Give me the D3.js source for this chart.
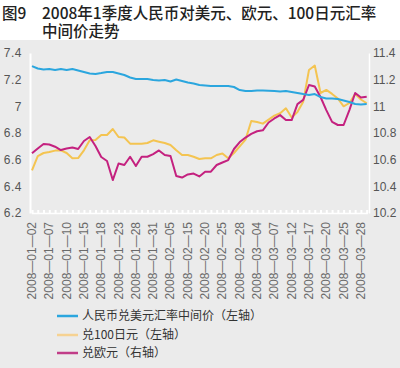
<!DOCTYPE html>
<html>
<head>
<meta charset="utf-8">
<script src="https://cdn.jsdelivr.net/npm/d3@7"></script>
<style>
  body { margin: 0; background: #fff; }
  svg { display: block; font-family: "Liberation Sans", "Noto Sans CJK SC", sans-serif; }
</style>
</head>
<body>
<svg id="chart" width="400" height="368"></svg>
<script>
// trading days, 2008 Q1
const dates = [
  '01-02','01-03','01-04','01-07','01-08','01-09','01-10','01-11','01-14','01-15',
  '01-16','01-17','01-18','01-21','01-22','01-23','01-24','01-25','01-28','01-29',
  '01-30','01-31','02-01','02-04','02-05','02-13','02-14','02-15','02-18','02-19',
  '02-20','02-21','02-22','02-25','02-26','02-27','02-28','02-29','03-03','03-04',
  '03-05','03-06','03-07','03-10','03-11','03-12','03-13','03-14','03-17','03-18',
  '03-19','03-20','03-21','03-24','03-25','03-26','03-27','03-28','03-31'
].map(d => '2008-' + d)

const tickDates = [
  '2008-01-02','2008-01-07','2008-01-10','2008-01-15','2008-01-18','2008-01-23','2008-01-28',
  '2008-01-31','2008-02-05','2008-02-15','2008-02-20','2008-02-25','2008-02-28','2008-03-04',
  '2008-03-07','2008-03-12','2008-03-17','2008-03-20','2008-03-25','2008-03-28'
]

const leftTicks = [6.2, 6.4, 6.6, 6.8, 7, 7.2, 7.4]
const rightTicks = [10.2, 10.4, 10.6, 10.8, 11, 11.2, 11.4]

// USD (left axis)
const usd = [
  7.302,7.284,7.276,7.280,7.273,7.280,7.273,7.280,7.269,7.258,
  7.246,7.243,7.250,7.258,7.258,7.246,7.235,7.216,7.205,7.205,
  7.205,7.198,7.194,7.198,7.186,7.201,7.190,7.179,7.171,7.160,
  7.156,7.152,7.152,7.152,7.152,7.145,7.122,7.115,7.115,7.119,
  7.119,7.117,7.115,7.111,7.115,7.108,7.100,7.092,7.085,7.092,
  7.070,7.059,7.059,7.055,7.044,7.032,7.017,7.014,7.018
]
// 100 JPY (left axis)
const jpy = [
  6.520,6.627,6.650,6.657,6.668,6.670,6.650,6.610,6.612,6.670,
  6.745,6.747,6.785,6.785,6.830,6.770,6.766,6.720,6.720,6.720,
  6.725,6.745,6.735,6.725,6.710,6.670,6.635,6.635,6.622,6.605,
  6.610,6.610,6.635,6.646,6.610,6.650,6.700,6.750,6.890,6.883,
  6.870,6.900,6.930,6.948,6.985,6.916,6.957,7.035,7.273,7.306,
  7.100,7.123,7.093,7.059,7.000,7.025,7.093,7.051,7.023
]
// EUR (right axis)
const eur = [
  10.648,10.684,10.718,10.714,10.697,10.672,10.684,10.691,10.680,10.740,
  10.770,10.702,10.620,10.590,10.447,10.571,10.560,10.622,10.552,10.622,
  10.622,10.642,10.669,10.635,10.627,10.477,10.466,10.489,10.496,10.474,
  10.510,10.510,10.560,10.579,10.597,10.680,10.732,10.766,10.793,10.813,
  10.820,10.879,10.909,10.934,10.897,10.897,11.017,11.048,11.160,11.149,
  11.070,10.972,10.883,10.860,10.860,10.972,11.100,11.066,11.072
]

const seriesNames = ['人民币兑美元汇率中间价（左轴）', '兑100日元（左轴）', '兑欧元（右轴）']
const colors = ['#2ba6de', '#f4c451', '#c4217f']
const legendColors = ['#2ba6de', '#f6d292', '#c13d88']

const plot = { left: 30, right: 369, top: 53, bottom: 213 }
const legend = { x: 57, len: 21, rows: [316, 335, 353] }

const svg = d3.select('#chart')

svg.append('rect')
  .attr('x', 0).attr('y', 40).attr('width', 400).attr('height', 328)
  .attr('fill', '#ebebeb')

// title
const title = svg.append('g')
  .attr('font-family', '"Noto Sans CJK SC", sans-serif')
  .attr('font-size', 15.5)
  .attr('font-weight', 500)
  .attr('fill', '#222')
title.append('text').attr('x', 2).attr('y', 19).text('图9')
title.append('text').attr('x', 42).attr('y', 19).text('2008年1季度人民币对美元、欧元、100日元汇率')
title.append('text').attr('x', 42).attr('y', 37).text('中间价走势')

// scales
const x = d3.scalePoint()
  .domain(dates)
  .range([32, 366.7])

const yL = d3.scaleLinear().domain([6.2, 7.4]).range([plot.bottom, plot.top])
const yR = d3.scaleLinear().domain([10.2, 11.4]).range([plot.bottom, plot.top])

const fmt = d => String(+d.toFixed(1))

svg.append('g')
  .attr('transform', 'translate(' + plot.left + ',0)')
  .call(d3.axisLeft(yL).tickValues(leftTicks).tickFormat(fmt).tickSize(0).tickPadding(8))
  .call(g => g.select('.domain').attr('stroke', '#fff').attr('stroke-width', 2))
  .call(g => g.selectAll('text')
    .attr('font-size', 12).attr('fill', '#555').attr('letter-spacing', 0.5)
    .attr('font-family', '"Liberation Sans", sans-serif'))

svg.append('g')
  .attr('transform', 'translate(' + plot.right + ',0)')
  .call(d3.axisRight(yR).tickValues(rightTicks).tickFormat(fmt).tickSize(0).tickPadding(4))
  .call(g => g.select('.domain').attr('stroke', '#fff').attr('stroke-width', 1.5))
  .call(g => g.selectAll('text')
    .attr('font-size', 12).attr('fill', '#555')
    .attr('font-family', '"Liberation Sans", sans-serif'))

// bottom axis: small white ticks on every day, labels every third day
svg.append('g')
  .attr('transform', 'translate(0,' + plot.bottom + ')')
  .call(d3.axisBottom(x).tickValues(dates).tickSize(-3).tickFormat(''))
  .call(g => g.select('.domain').attr('stroke', '#fff').attr('stroke-width', 1.5))
  .call(g => g.selectAll('.tick line').attr('stroke', '#fff').attr('stroke-width', 2))

svg.append('g')
  .selectAll('text')
  .data(tickDates)
  .join('text')
    .attr('transform', d => 'translate(' + (x(d) + 4) + ',' + (plot.bottom + 9) + ') rotate(-90)')
    .attr('text-anchor', 'end')
    .attr('font-size', 12)
    .attr('font-family', '"Liberation Sans", sans-serif')
    .attr('fill', '#6a6a6a')
    .text(d => d.replace(/-/g, '—'))

// lines
const lineL = d3.line().x((d, i) => x(dates[i])).y(d => yL(d))
const lineR = d3.line().x((d, i) => x(dates[i])).y(d => yR(d))

const lines = [
  { values: usd, line: lineL, color: colors[0] },
  { values: jpy, line: lineL, color: colors[1] },
  { values: eur, line: lineR, color: colors[2] },
]

svg.append('g')
  .selectAll('path')
  .data([lines[1], lines[2], lines[0]])
  .join('path')
    .attr('d', d => d.line(d.values))
    .attr('fill', 'none')
    .attr('stroke', d => d.color)
    .attr('stroke-width', 2)
    .attr('stroke-linejoin', 'round')

// legend
const leg = svg.append('g')
  .selectAll('g')
  .data(seriesNames)
  .join('g')
    .attr('transform', (d, i) => 'translate(' + legend.x + ',' + legend.rows[i] + ')')
leg.append('line')
  .attr('x1', 0).attr('x2', legend.len)
  .attr('stroke', (d, i) => legendColors[i])
  .attr('stroke-width', 2.5)
leg.append('text')
  .attr('x', legend.len + 4)
  .attr('dy', '0.35em')
  .attr('font-size', 12)
  .attr('font-family', '"Noto Sans CJK SC", sans-serif')
  .attr('fill', '#333')
  .text(d => d)
</script>
</body>
</html>
